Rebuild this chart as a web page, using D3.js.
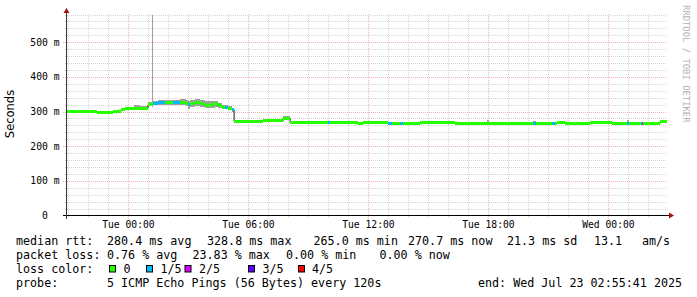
<!DOCTYPE html>
<html>
<head>
<meta charset="utf-8">
<title></title>
<style>
body{margin:0;background:#fff;}
svg{display:block;}
text{font-family:"DejaVu Sans Mono",monospace;}
.grid line{stroke-dasharray:1,1;shape-rendering:crispEdges;}
.legend text{font-size:11.7px;fill:#000;white-space:pre;}
</style>
</head>
<body>
<svg id="chart" width="697" height="297"></svg>
<script src="https://d3js.org/d3.v7.min.js"></script>
<script>
// one row per step of the median line
var sampleTimes = ["07-21 20:56","07-21 22:26","07-21 23:14","07-21 23:38","07-21 23:50","07-22 00:17","07-22 00:35","07-22 00:47",
  "07-22 00:59","07-22 01:11","07-22 01:14","07-22 01:29","07-22 01:50","07-22 02:14","07-22 02:35","07-22 02:53","07-22 02:59",
  "07-22 03:05","07-22 03:20","07-22 03:35","07-22 03:50","07-22 04:05","07-22 04:20","07-22 04:29","07-22 04:41","07-22 04:50",
  "07-22 04:59","07-22 05:11","07-22 05:17","07-22 06:44","07-22 07:44","07-22 08:05","07-22 08:59","07-22 09:59","07-22 10:05",
  "07-22 11:29","07-22 11:44","07-22 12:59","07-22 13:11","07-22 13:35","07-22 13:44","07-22 14:35","07-22 16:20","07-22 17:56",
  "07-22 18:02","07-22 20:14","07-22 20:23","07-22 21:11","07-22 21:20","07-22 21:26","07-22 21:50","07-22 23:05","07-23 00:11",
  "07-23 00:56","07-23 01:02","07-23 01:38","07-23 01:41","07-23 01:44","07-23 02:35"];
var medianRtt = [301,297,301,305,309,310,308,310,320,322,324,325,326,326,327,324,319,322,326,322,318,320,322,316,312,313,308,305,
  272,273,281,268,269,267,268,265,268,266,266,266,266,267,265.5,265.5,265.5,266,265.5,266,265.5,267.5,265,267,265,266,265.5,266,266,265.5,270.5];
var lossCount = [0,0,0,0,0,0,0,0,0,0,1,1,0,1,0,0,1,0,0,0,0,0,0,0,0,1,0,1,
  0,0,0,0,0,1,0,0,0,1,0,1,0,0,0,0,0,1,0,1,0,0,0,0,0,1,0,1,2,0,0];
var smokeLow = [299,295,299,302,306,304,303,305,315,314,318,319,320,319,318,315,308,314,316,312,310,311,314,309,306,307,303,300,
  270,271,276,266,267,265,266,263,266,264,264,264,264,265,263,263,263,264,263,264,263,265,263,265,263,264,263,264,264,263,268];
var smokeHigh = [303,299,303,310,314,319,317,316,327,580,331,332,333,333,335,334,331,333,337,333,330,331,330,325,320,320,316,311,
  274,275,288,270,271,270,270,267,270,268,268,268,268,269,268,276,268,274,268,270,268,270,267,269,267,276,268,270,270,268,273];

var endTime = "2025-07-23 02:55:41";
var spanHours = 30;
var yTicks = [0,100,200,300,400,500];

var lossLabels = ["0","1/5","2/5","3/5","4/5"];
var lossColors = ["#26ff00","#00b8ff","#dd00ff","#5e00ff","#ff0000"];

var rttStats = ["median rtt:","280.4 ms avg","328.8 ms max","265.0 ms min","270.7 ms now","21.3 ms sd","13.1","am/s"];
var lossStats = ["packet loss:","0.76 % avg","23.83 % max","0.00 % min","0.00 % now"];
var probeInfo = ["probe:","5 ICMP Echo Pings (56 Bytes) every 120s","end: Wed Jul 23 02:55:41 2025"];

var svg = d3.select("#chart");
var parseT = d3.utcParse("%Y-%m-%d %H:%M");
var parseEnd = d3.utcParse("%Y-%m-%d %H:%M:%S");
var tEnd = parseEnd(endTime);
var tStart = new Date(tEnd.getTime() - spanHours*3600*1000);

var rows = sampleTimes.map(function(s,i){
  return {t: parseT("2025-" + s), med: medianRtt[i], loss: lossCount[i], lo: smokeLow[i], hi: smokeHigh[i]};
});
rows.forEach(function(d,i){ d.t2 = i < rows.length-1 ? rows[i+1].t : tEnd; });

var x = d3.scaleUtc().domain([tStart, tEnd]).range([67, 667]);
var y = d3.scaleLinear().domain([0, 580]).range([215.5, 14.5]);
function px(v){ return Math.round(v) + 0.5; }

// grid
var grid = svg.append("g").attr("class","grid");
var minorY = d3.range(20, 581, 20).filter(function(v){ return v % 100 != 0; });
grid.selectAll("line.my").data(minorY).enter().append("line")
  .attr("x1",65).attr("x2",667).attr("y1",function(d){return px(y(d));}).attr("y2",function(d){return px(y(d));})
  .attr("stroke","#d4d4d4");
var hours = d3.utcHour.range(d3.utcHour.ceil(tStart), tEnd);
grid.selectAll("line.mx").data(hours.filter(function(h){return h.getUTCHours()%6 != 0;})).enter().append("line")
  .attr("y1",217).attr("y2",14).attr("x1",function(d){return px(x(d));}).attr("x2",function(d){return px(x(d));})
  .attr("stroke","#d4d4d4");
grid.selectAll("line.My").data(yTicks.filter(function(v){return v>0;})).enter().append("line")
  .attr("x1",63).attr("x2",667).attr("y1",function(d){return px(y(d));}).attr("y2",function(d){return px(y(d));})
  .attr("stroke","#f0b4b4");
var majorX = hours.filter(function(h){return h.getUTCHours()%6 == 0;});
grid.selectAll("line.Mx").data(majorX).enter().append("line")
  .attr("y1",219).attr("y2",14).attr("x1",function(d){return px(x(d));}).attr("x2",function(d){return px(x(d));})
  .attr("stroke","#f0b4b4");

// smoke
var smoke = d3.area().curve(d3.curveStepAfter)
  .x(function(d){return x(d.t);}).y0(function(d){return y(d.lo);}).y1(function(d){return y(d.hi);});
var smokeRows = rows.concat([{t:tEnd, lo:rows[rows.length-1].lo, hi:rows[rows.length-1].hi}]);
svg.append("path").datum(smokeRows).attr("d", smoke).attr("fill","#a0a0a0").attr("shape-rendering","crispEdges");

// thin median line
var medLine = d3.line().curve(d3.curveStepAfter).x(function(d){return x(d.t);}).y(function(d){return y(d.med);});
var lineRows = rows.concat([{t:tEnd, med:rows[rows.length-1].med}]);
svg.append("path").datum(lineRows).attr("d", medLine).attr("fill","none").attr("stroke","#202020").attr("stroke-width",1);

// loss-coloured median band
svg.append("g").selectAll("rect").data(rows).enter().append("rect")
  .attr("x", function(d){return x(d.t);})
  .attr("width", function(d){return x(d.t2) - x(d.t);})
  .attr("y", function(d){return y(d.med) - 1.5;})
  .attr("height", 3)
  .attr("fill", function(d){return lossColors[d.loss];})
  .attr("shape-rendering","crispEdges");

// axes
svg.append("line").attr("x1",63).attr("x2",670).attr("y1",215.5).attr("y2",215.5).attr("stroke","#000");
svg.append("line").attr("x1",66.5).attr("x2",66.5).attr("y1",219).attr("y2",11).attr("stroke","#333");
svg.append("path").attr("d","M669,212.5L674,215.5L669,218.5Z").attr("fill","#a01010");
svg.append("path").attr("d","M63.5,13L66.5,8L69.5,13Z").attr("fill","#a01010");

svg.append("g").selectAll("text").data(yTicks).enter().append("text")
  .attr("x", 59.5).attr("y", function(d){return y(d) + 3.5;})
  .attr("text-anchor","end").style("font-size","9.7px").style("white-space","pre")
  .text(function(d){ return d == 0 ? "0  " : d + " m"; });

var fmt = d3.utcFormat("%a %H:%M");
svg.append("g").selectAll("text").data(majorX).enter().append("text")
  .attr("x", function(d){return x(d);}).attr("y", 228)
  .attr("text-anchor","middle").style("font-size","9.7px")
  .text(fmt);

svg.append("text").attr("transform","translate(14,114) rotate(-90)")
  .attr("text-anchor","middle").style("font-family","'DejaVu Sans',sans-serif").style("font-size","11.5px")
  .text("Seconds");

svg.append("text").attr("transform","translate(683,5) rotate(90)")
  .style("font-size","8.9px").attr("fill","#b0b0b0")
  .text("RRDTOOL / TOBI OETIKER");

// legend
var lg = svg.append("g").attr("class","legend");
var rttX = [16,107,207,313.5,408,507,594,642];
rttStats.forEach(function(s,i){ lg.append("text").attr("x",rttX[i]).attr("y",245).text(s); });
var lossX = [16,107,192.5,286,379.5];
lossStats.forEach(function(s,i){ lg.append("text").attr("x",lossX[i]).attr("y",259).text(s); });
lg.append("text").attr("x",16).attr("y",273).text("loss color:");
var boxX = [109,146,184.5,248,298];
var labX = [123.5,160.5,199,262.5,312];
lossLabels.forEach(function(s,i){
  lg.append("rect").attr("x",boxX[i]+0.5).attr("y",265.5).attr("width",6).attr("height",6.5)
    .attr("fill",lossColors[i]).attr("stroke","#000").attr("stroke-width",1);
  lg.append("text").attr("x",labX[i]).attr("y",273).text(s);
});
var probeX = [16,107,478];
probeInfo.forEach(function(s,i){ lg.append("text").attr("x",probeX[i]).attr("y",287).text(s); });
</script>
</body>
</html>
